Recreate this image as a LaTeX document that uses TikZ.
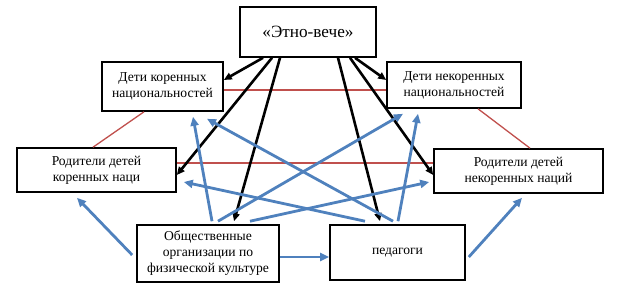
\documentclass[tikz,border=0pt]{standalone}
\usepackage{fontspec}
\setmainfont{Liberation Serif}
\usetikzlibrary{arrows.meta, positioning, calc}
\definecolor{linkblue}{RGB}{79, 129, 189}
\definecolor{linkred}{RGB}{192, 80, 77}

\begin{document}
\begin{tikzpicture}[x=1pt, y=-1pt,
  box/.style={rectangle, draw, line width=1.6pt, fill=white, align=center, inner sep=2pt,
    font=\fontsize{13.6}{16}\selectfont},
  blackarrow/.style={-{Triangle[length=8pt, width=7pt]}, line width=2.6pt},
  bluearrow/.style={-{Triangle[length=9pt, width=8pt]}, line width=2.8pt, draw=linkblue, fill=linkblue},
  redlink/.style={line width=1.3pt, draw=linkred}
]
\useasboundingbox (0,0) rectangle (620,298);

% Top: the event
\node[box, minimum width=136pt, minimum height=50pt, font=\fontsize{17.2}{20}\selectfont] (etno) at (308,32) {«Этно-вече»};

% Children
\node[box, minimum width=121pt, minimum height=49pt] (detik) at (162.5,86.5) {Дети коренных\\национальностей};
\node[box, minimum width=134pt, minimum height=46pt] (detin) at (454,85) {Дети некоренных\\национальностей};

% Parents
\node[box, minimum width=159pt, minimum height=44pt] (rodk) at (96.5,170) {Родители детей\\коренных наци};
\node[box, minimum width=169pt, minimum height=44pt] (rodn) at (518.5,171) {Родители детей\\некоренных наций};

% Organisations and teachers
\node[box, minimum width=142pt, minimum height=57pt] (obsh) at (208,253.5) {Общественные\\организации по\\физической культуре};
\node[box, minimum width=135pt, minimum height=55pt] (ped) at (397.5,252.5) {педагоги};

% Red links
\draw[redlink] ([yshift=-3.5pt]detik.east) -- ([yshift=-5pt]detin.west);
\draw[redlink] ([yshift=7pt]rodk.east) -- ([yshift=8pt]rodn.west);
\draw[redlink] ([xshift=-18.5pt]detik.south) -- ([xshift=-3.5pt]rodk.north);
\draw[redlink] ([xshift=24pt]detin.south) -- ([xshift=11.5pt]rodn.north);

% Black arrows from the event
\draw[blackarrow] ([xshift=-45pt]etno.south) -- ([yshift=6.5pt]detik.east);
\draw[blackarrow] ([xshift=-36pt]etno.south) -- ([yshift=-5pt]rodk.east);
\draw[blackarrow] ([xshift=-28pt]etno.south) -- ([xshift=26pt,yshift=3pt]obsh.north);
\draw[blackarrow] ([xshift=30pt]etno.south) -- ([xshift=-17.5pt,yshift=3pt]ped.north);
\draw[blackarrow] ([xshift=42pt]etno.south) -- ([yshift=-4pt]rodn.west);
\draw[blackarrow] ([xshift=47pt]etno.south) -- ([yshift=5pt]detin.west);

% Blue arrows from organisations
\draw[bluearrow] ([xshift=4pt,yshift=3pt]obsh.north) -- ([xshift=30.5pt,yshift=-5pt]detik.south);
\draw[bluearrow] ([xshift=10pt,yshift=3pt]obsh.north) -- ([xshift=-51pt,yshift=-5pt]detin.south);
\draw[bluearrow] ([xshift=42pt,yshift=3pt]obsh.north) -- ([xshift=-4pt,yshift=-11pt]rodn.west);
\draw[bluearrow] ([yshift=-3.5pt]obsh.east) -- ([yshift=-4.5pt]ped.west);
\draw[bluearrow] ([xshift=-4pt,yshift=-1.5pt]obsh.west) -- ([xshift=-19.5pt,yshift=-5pt]rodk.south);

% Blue arrows from teachers
\draw[bluearrow] ([xshift=-32.5pt,yshift=3pt]ped.north) -- ([xshift=7pt,yshift=-12pt]rodk.east);
\draw[bluearrow] ([xshift=-4.5pt,yshift=3pt]ped.north) -- ([xshift=44.5pt,yshift=-7pt]detik.south);
\draw[bluearrow] ([xshift=0.5pt,yshift=3pt]ped.north) -- ([xshift=-36pt,yshift=-5pt]detin.south);
\draw[bluearrow] ([xshift=3pt,yshift=-4.5pt]ped.east) -- ([xshift=3.5pt,yshift=-4pt]rodn.south);

\end{tikzpicture}
\end{document}
